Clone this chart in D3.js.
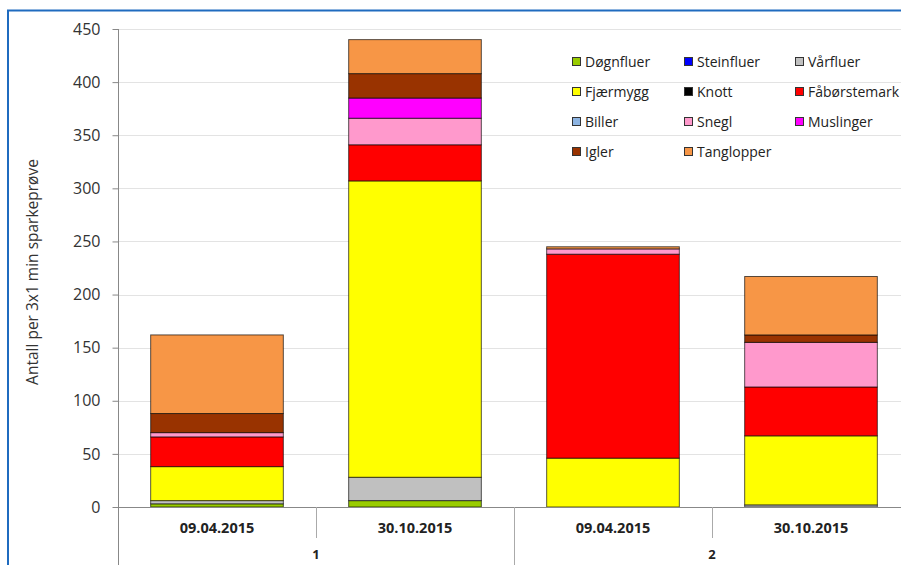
<!DOCTYPE html>
<html>
<head>
<meta charset="utf-8">
<script src="https://cdn.jsdelivr.net/npm/d3@7"></script>
<style>
  body { margin: 0; background: #fff; }
  svg { display: block; font-family: "Open Sans", "DejaVu Sans", sans-serif; }
</style>
</head>
<body>
<svg id="chart" width="901" height="565"></svg>
<script>
// Data
const dates = ['09.04.2015', '30.10.2015', '09.04.2015', '30.10.2015'];
const groups = ['1', '2'];
const species = ['Døgnfluer', 'Steinfluer', 'Vårfluer', 'Fjærmygg', 'Knott', 'Fåbørstemark',
  'Biller', 'Snegl', 'Muslinger', 'Igler', 'Tanglopper'];
const speciesColors = ['#99CC00', '#0000FF', '#C0C0C0', '#FFFF00', '#000000', '#FF0000',
  '#8DB4E2', '#FF99CC', '#FF00FF', '#993300', '#F79646'];

// one array per species, value per bar
const doegnfluer   = [3, 6, 0, 0];
const steinfluer   = [0, 0, 0, 0];
const vaarfluer    = [3, 22, 0, 2];
const fjaermygg    = [32, 279, 46, 65];
const knott        = [0, 0, 0, 0];
const faaboerste   = [28, 34, 192, 46];
const biller       = [0, 0, 0, 0];
const snegl        = [4, 25, 5, 42];
const muslinger    = [0, 19, 0, 0];
const igler        = [18, 23, 0, 7];
const tanglopper   = [74, 32, 2, 55];
const seriesValues = [doegnfluer, steinfluer, vaarfluer, fjaermygg, knott, faaboerste,
  biller, snegl, muslinger, igler, tanglopper];

const yTicks = [0, 50, 100, 150, 200, 250, 300, 350, 400, 450];

const svg = d3.select('#chart');
const plotLeft = 118, plotRight = 910, plotTop = 29, plotBottom = 507;

const x = d3.scaleBand()
  .domain(d3.range(dates.length))
  .range([plotLeft, plotRight])
  .paddingInner(0.33)
  .paddingOuter(0.165);

const y = d3.scaleLinear().domain([0, 450]).range([plotBottom, plotTop]);

// Frame
svg.append('path')
  .attr('d', 'M8,570 L8,10.5 L910,10.5')
  .attr('fill', 'none')
  .attr('stroke', '#1F6BBF')
  .attr('stroke-width', 2);

// Gridlines
svg.append('g')
  .selectAll('line')
  .data(yTicks.filter(d => d > 0))
  .enter()
  .append('line')
  .attr('x1', plotLeft)
  .attr('x2', 901)
  .attr('y1', d => Math.round(y(d)) + 0.5)
  .attr('y2', d => Math.round(y(d)) + 0.5)
  .attr('stroke', '#E3E3E3')
  .attr('stroke-width', 1);

// Stack
const table = dates.map((d, i) => {
  const row = { i };
  species.forEach((s, k) => { row[s] = seriesValues[k][i]; });
  return row;
});
const stacked = d3.stack().keys(species)(table);

const layer = svg.append('g')
  .selectAll('g')
  .data(stacked)
  .enter()
  .append('g')
  .attr('fill', (d, k) => speciesColors[k]);

layer.selectAll('rect')
  .data(d => d.filter(p => p[1] - p[0] > 0))
  .enter()
  .append('rect')
  .attr('x', d => x(d.data.i))
  .attr('width', x.bandwidth())
  .attr('y', d => y(d[1]))
  .attr('height', d => y(d[0]) - y(d[1]))
  .attr('stroke', '#000')
  .attr('stroke-opacity', 0.65)
  .attr('stroke-width', 1);

// Y axis
const yAxis = svg.append('g')
  .attr('transform', `translate(${plotLeft + 0.5},0)`)
  .call(d3.axisLeft(y).tickValues(yTicks).tickSize(6).tickPadding(12));
yAxis.select('.domain').remove();
yAxis.selectAll('.tick line').attr('stroke', '#888');
yAxis.selectAll('.tick text')
  .attr('font-size', 16)
  .attr('fill', '#333')
  .attr('font-family', '"Open Sans", sans-serif');

svg.append('line')
  .attr('x1', plotLeft + 0.5).attr('x2', plotLeft + 0.5)
  .attr('y1', y(450)).attr('y2', 565)
  .attr('stroke', '#888');

// X axis line
svg.append('line')
  .attr('x1', plotLeft).attr('x2', 901)
  .attr('y1', plotBottom + 0.5).attr('y2', plotBottom + 0.5)
  .attr('stroke', '#888');

// Category separators
const step = x.step();
svg.append('g')
  .selectAll('line')
  .data(d3.range(1, dates.length))
  .enter()
  .append('line')
  .attr('x1', i => Math.round(plotLeft + i * step) + 0.5)
  .attr('x2', i => Math.round(plotLeft + i * step) + 0.5)
  .attr('y1', plotBottom)
  .attr('y2', i => (i % 2 === 0 ? 565 : 538))
  .attr('stroke', '#AAA');

// Date labels
svg.append('g')
  .selectAll('text')
  .data(dates)
  .enter()
  .append('text')
  .attr('x', (d, i) => x(i) + x.bandwidth() / 2)
  .attr('y', 533)
  .attr('text-anchor', 'middle')
  .attr('font-size', 14.5)
  .attr('font-weight', 'bold')
  .attr('fill', '#222')
  .text(d => d);

// Group labels
svg.append('g')
  .selectAll('text')
  .data(groups)
  .enter()
  .append('text')
  .attr('x', (d, i) => plotLeft + (i * 2 + 1) * step)
  .attr('y', 559)
  .attr('text-anchor', 'middle')
  .attr('font-size', 13)
  .attr('font-weight', 'bold')
  .attr('fill', '#222')
  .text(d => d);

// Y axis title
svg.append('text')
  .attr('transform', 'translate(38,272) rotate(-90)')
  .attr('text-anchor', 'middle')
  .attr('font-size', 15.5)
  .attr('fill', '#333')
  .text('Antall per 3x1 min sparkeprøve');

// Legend
const legendX = [572, 684, 795];
const legendY = [62, 92, 122, 152];
const legend = svg.append('g')
  .selectAll('g')
  .data(species)
  .enter()
  .append('g')
  .attr('transform', (d, i) => `translate(${legendX[i % 3]},${legendY[Math.floor(i / 3)]})`);

legend.append('rect')
  .attr('x', 0.5)
  .attr('y', -4.5)
  .attr('width', 8)
  .attr('height', 8)
  .attr('fill', (d, i) => speciesColors[i])
  .attr('stroke', '#333')
  .attr('stroke-width', 1);

legend.append('text')
  .attr('x', 13)
  .attr('y', 0)
  .attr('dy', '0.35em')
  .attr('font-size', 14)
  .attr('fill', '#222')
  .text(d => d);
</script>
</body>
</html>
